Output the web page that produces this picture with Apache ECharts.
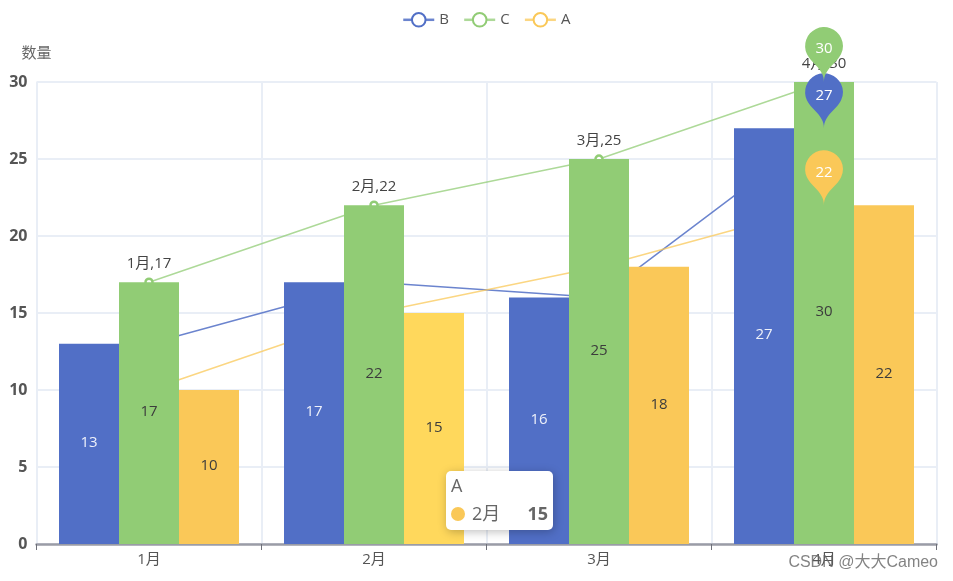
<!DOCTYPE html>
<html>
<head>
<meta charset="utf-8">
<style>html,body{margin:0;padding:0;background:#fff}#c{width:953px;height:581px}</style>
<script src="https://cdn.jsdelivr.net/npm/echarts@6/dist/echarts.min.js"></script>
</head>
<body>
<div id="c"></div>
<script>
const categories = ['1月','2月','3月','4月'];
const seriesNames = ['B','C','A'];
const valuesB = [13,17,16,27];
const valuesC = [17,22,25,30];
const valuesA = [10,15,18,22];
const yTicks = {min:0,max:30,interval:5};
const colors = {B:'#516fc6',C:'#91cc75',A:'#fac858'};
const font = '"Open Sans","Noto Sans CJK SC",sans-serif';
const data = {B:valuesB,C:valuesC,A:valuesA};
const labelColor = {B:'#eef1fa',C:'#3c3c3c',A:'#3c3c3c'};

const lineSeries = seriesNames.map(n=>({
  name:n,type:'line',data:data[n],z:1,
  symbol:'circle',symbolSize:7,showSymbol:true,
  itemStyle:{color:'#fff',borderColor:colors[n],borderWidth:2.5},
  lineStyle:{color:colors[n],width:1.5,opacity:n==='B'?0.85:0.75},
  label:n==='C'?{show:true,position:'top',formatter:'{b},{c}',color:'#444',fontSize:15,fontFamily:font,distance:6}:{show:false},
  markPoint:{data:[{type:'max'}],symbol:'pin',symbolSize:63,z:5,
    itemStyle:{color:colors[n],borderWidth:0},
    label:{color:'#fff',fontSize:15,fontFamily:font}},
  tooltip:{show:false}
}));
const barSeries = seriesNames.map(n=>({
  name:n,type:'bar',data:data[n],z:2,barWidth:60,barGap:0,
  itemStyle:{color:colors[n]},
  label:{show:true,position:'inside',color:labelColor[n],fontSize:15,fontFamily:font,offset:[0,-1]},
  emphasis:{itemStyle:{color:'#ffd85c'}}
}));

const chart = echarts.init(document.getElementById('c'));
chart.setOption({
  animation:false,
  textStyle:{fontFamily:font},
  legend:{data:seriesNames,top:7,left:397,itemWidth:31,itemHeight:17,itemGap:14,
    lineStyle:{width:2.5},
    textStyle:{color:'#555',fontSize:15,fontFamily:font}},
  grid:{left:36.5,right:16.5,top:82,bottom:37,containLabel:false},
  tooltip:{trigger:'item',position:[446,471],padding:[0,5],borderWidth:0,
    backgroundColor:'#fff',textStyle:{color:'#666',fontSize:18,fontFamily:font},
    extraCssText:'border-radius:5px;box-shadow:1px 2px 10px rgba(0,0,0,.25);width:97px;height:59px;line-height:28px;',
    formatter:p=>p.seriesName+'<br/><div style="display:flex;align-items:center;justify-content:space-between"><span><span style="display:inline-block;width:14px;height:14px;border-radius:50%;background:'+colors[p.seriesName]+';margin-right:7px;vertical-align:-1px"></span>'+p.name+'</span><b>'+p.value+'</b></div>'},
  xAxis:{type:'category',data:categories,
    axisLine:{lineStyle:{color:'#9a9ca6',width:2.5}},
    axisTick:{show:true,length:6,lineStyle:{color:'#6E7079'}},
    axisLabel:{color:'#555',fontSize:15,fontFamily:font,margin:8},
    splitLine:{show:true,lineStyle:{color:'#e9eef6',width:2}}},
  yAxis:{type:'value',min:yTicks.min,max:yTicks.max,interval:yTicks.interval,name:'数量',
    nameTextStyle:{color:'#666',fontSize:15,fontFamily:font,align:'center',padding:[0,0,11,0]},
    nameGap:10,
    axisLabel:{color:'#555',fontWeight:'bold',fontSize:16,fontFamily:font,margin:9},
    splitLine:{show:true,lineStyle:{color:'#e9eef6',width:2}}},
  series:lineSeries.concat(barSeries),
  graphic:[{type:'text',right:15,top:555,z:100,silent:true,
    style:{text:'CSDN @大大Cameo',fill:'rgba(100,100,100,.8)',fontSize:16,fontFamily:'"Liberation Sans","Noto Sans CJK SC",sans-serif'}}]
});
const aBar = lineSeries.length + seriesNames.indexOf('A');
chart.dispatchAction({type:'highlight',seriesIndex:aBar,dataIndex:1});
chart.dispatchAction({type:'showTip',seriesIndex:aBar,dataIndex:1});
</script>
</body>
</html>
